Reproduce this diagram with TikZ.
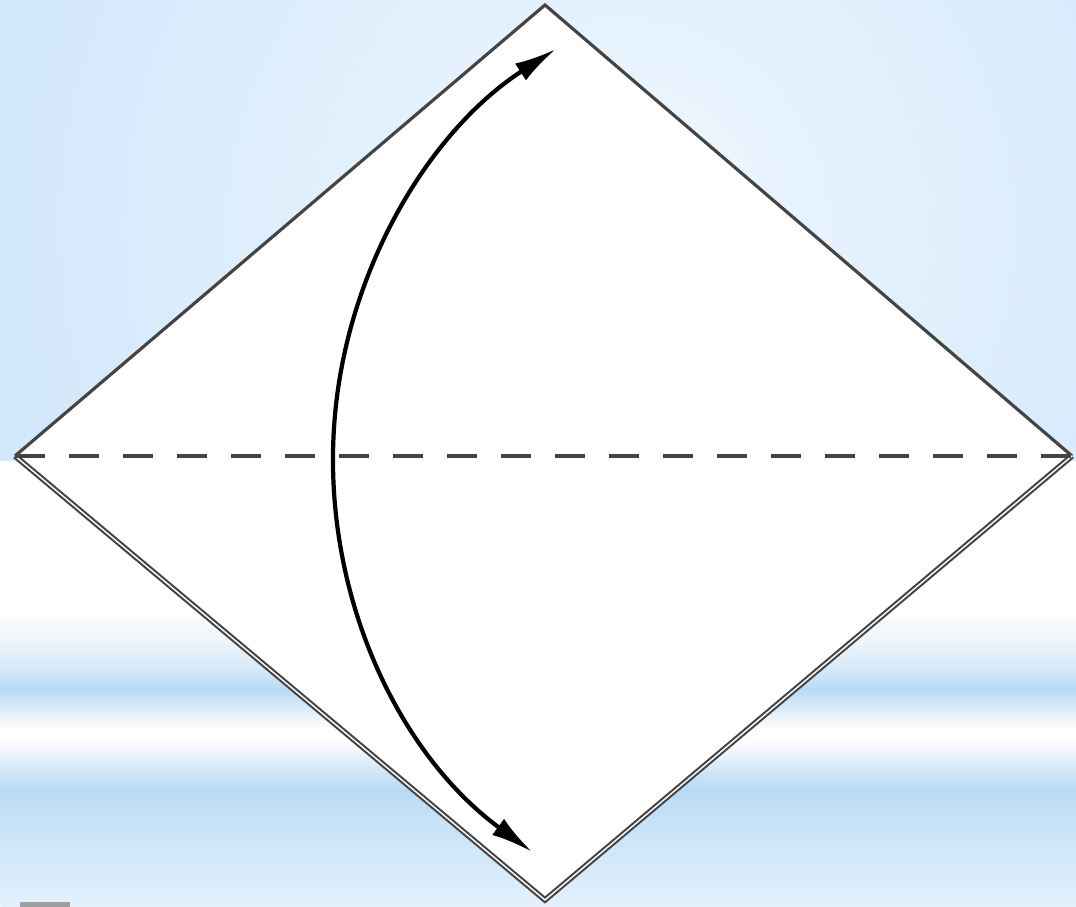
\documentclass[tikz,border=0pt]{standalone}
\usepackage{tikz,xcolor}
\usetikzlibrary{arrows.meta,calc}

\definecolor{skyblue}{HTML}{D3E8FB}
\definecolor{skylight}{HTML}{EFF7FE}
\definecolor{bandblue}{HTML}{B9DAF4}
\definecolor{edgegray}{HTML}{444444}

\pgfdeclareverticalshading{bands}{10.76cm}{%
  color(0cm)=(skyblue!60!white); color(0.47cm)=(skyblue);
  color(0.87cm)=(bandblue!80!white); color(1.17cm)=(bandblue);
  color(1.37cm)=(bandblue!60!white); color(1.67cm)=(white);
  color(1.77cm)=(white); color(1.97cm)=(bandblue!50!white);
  color(2.17cm)=(bandblue); color(2.37cm)=(bandblue!60!white);
  color(2.67cm)=(bandblue!25!white); color(2.95cm)=(white);
  color(4.46cm)=(white)}

\begin{document}
\begin{tikzpicture}[
  crease/.style={edgegray, line width=1pt, dash pattern=on 0.3cm off 0.24cm},
  paperedge/.style={edgegray, line width=0.9pt, line join=miter},
  paperlow/.style={edgegray, line width=0.6pt, double=white, double distance=0.4pt},
  foldarrow/.style={black, line width=1.2pt, {Latex[length=4.2mm,width=2mm]}-{Latex[length=4.2mm,width=2mm]}}]
\useasboundingbox (0,0) rectangle (10.76,9.07);

%sky
\begin{scope}
\clip (0,4.46) rectangle (10.76,9.07);
\fill[skyblue] (0,4.46) rectangle (10.76,9.07);
\shade[inner color=skylight, outer color=skyblue] (6.2,6.8) circle (6.2);
\end{scope}
\node[inner sep=0pt, anchor=south west] (bandbg) at (0,0) {\pgfuseshading{bands}};
\fill[gray!75] (0.2,0) rectangle (0.7,0.05);

%square paper
\coordinate (top) at (5.45,9.02);
\coordinate (left) at (0.15,4.51);
\coordinate (right) at (10.72,4.51);
\coordinate (bottom) at (5.45,0.07);

\fill[white] (top) -- (right) -- (bottom) -- (left) -- cycle;
\draw[paperedge] (left) -- (top) -- (right);
\draw[paperlow] (left) -- (bottom) -- (right);
\draw[crease] (left) -- (right);

%fold arrow
\coordinate (ctr) at (8.208,4.483);
\coordinate (tipdown) at ($(ctr)+(233.7:4.878)$);
\draw[foldarrow] (tipdown) arc[start angle=233.7, end angle=122.9, radius=4.878];

\end{tikzpicture}
\end{document}
